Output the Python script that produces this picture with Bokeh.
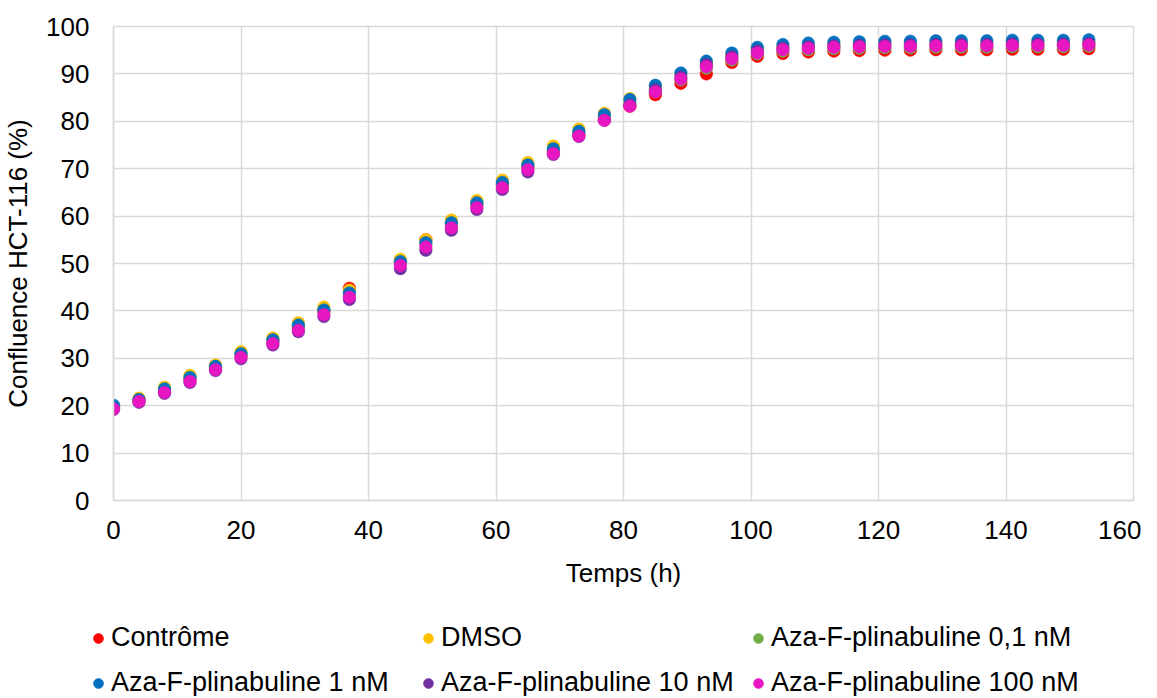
from bokeh.plotting import figure
from bokeh.layouts import column
from bokeh.models import Range1d, FixedTicker, Legend, LegendItem
from bokeh.embed import file_html
from bokeh.resources import INLINE

# ---------------- data ----------------
temps = [0, 4, 8, 12, 16, 20, 25, 29, 33, 37, 45, 49, 53, 57, 61, 65, 69, 73, 77, 81,
         85, 89, 93, 97, 101, 105, 109, 113, 117, 121, 125, 129, 133, 137, 141, 145, 149, 153]

controme = [19.6, 21.0, 23.2, 25.6, 28.0, 30.6, 33.5, 36.6, 39.9, 44.8, 50.3, 55.0, 58.3, 62.4,
            66.6, 70.3, 73.6, 77.2, 80.4, 83.2, 85.6, 88.0, 90.0, 92.4, 93.7, 94.3, 94.6, 94.8,
            94.9, 95.0, 95.0, 95.1, 95.1, 95.1, 95.2, 95.2, 95.2, 95.3]
dmso = [19.8, 21.6, 23.9, 26.4, 28.6, 31.4, 34.3, 37.5, 40.8, 44.4, 50.9, 55.0, 59.2, 63.3,
        67.6, 71.3, 74.8, 78.4, 81.7, 84.8, 87.5, 90.0, 92.4, 94.0, 95.2, 95.7, 96.0, 96.2,
        96.3, 96.4, 96.4, 96.5, 96.5, 96.5, 96.6, 96.6, 96.6, 96.7]
aza_01 = [19.8, 21.2, 23.6, 26.0, 28.2, 31.0, 33.8, 36.9, 40.1, 43.6, 50.2, 54.2, 58.4, 62.6,
          66.8, 70.5, 73.9, 77.5, 80.8, 84.0, 86.2, 88.7, 91.2, 92.9, 94.2, 94.8, 95.1, 95.3,
          95.4, 95.5, 95.5, 95.6, 95.6, 95.6, 95.7, 95.7, 95.7, 95.8]
aza_1 = [20.1, 21.3, 23.5, 25.9, 28.3, 30.9, 33.9, 37.0, 40.2, 43.8, 50.4, 54.4, 58.6, 62.8,
         67.1, 70.8, 74.2, 77.9, 81.4, 84.6, 87.6, 90.2, 92.7, 94.4, 95.6, 96.2, 96.5, 96.7,
         96.8, 96.9, 96.9, 97.0, 97.0, 97.0, 97.1, 97.1, 97.1, 97.2]
aza_10 = [19.2, 20.7, 22.6, 24.9, 27.4, 29.9, 32.8, 35.6, 38.8, 42.4, 48.9, 52.8, 57.0, 61.4,
          65.6, 69.3, 73.0, 76.8, 80.2, 83.4, 86.6, 89.3, 92.0, 93.6, 94.8, 95.4, 95.7, 95.9,
          96.0, 96.1, 96.1, 96.2, 96.2, 96.2, 96.3, 96.3, 96.3, 96.4]
aza_100 = [19.3, 20.9, 22.8, 25.1, 27.6, 30.2, 33.1, 35.9, 39.2, 42.9, 49.6, 53.5, 57.5, 61.8,
           66.0, 69.8, 73.2, 76.9, 80.2, 83.2, 86.2, 88.9, 91.5, 93.2, 94.4, 95.1, 95.4, 95.6,
           95.7, 95.8, 95.8, 95.9, 95.9, 95.9, 96.0, 96.0, 96.0, 96.1]

series_names = ["Contrôme", "DMSO", "Aza-F-plinabuline 0,1 nM",
                "Aza-F-plinabuline 1 nM", "Aza-F-plinabuline 10 nM", "Aza-F-plinabuline 100 nM"]
series_values = [controme, dmso, aza_01, aza_1, aza_10, aza_100]
series_colors = ["#FF0000", "#FFC000", "#70AD47", "#0070C0", "#7030A0", "#E816C0"]

x_ticks = [0, 20, 40, 60, 80, 100, 120, 140, 160]
y_ticks = [0, 10, 20, 30, 40, 50, 60, 70, 80, 90, 100]

FONT = "Liberation Sans"
FS = "26px"
LFS = "27px"
GRID = "#D9D9D9"

# ---------------- main chart ----------------
p = figure(width=1141, height=600, output_backend="svg", toolbar_location=None,
           x_range=Range1d(0, 160), y_range=Range1d(0, 100),
           min_border_left=113, min_border_right=8, min_border_top=26, min_border_bottom=100)
p.frame_align = False

p.outline_line_color = GRID
p.outline_line_width = 1.5
p.background_fill_color = "white"
p.border_fill_color = "white"

for ax in (p.xaxis[0], p.yaxis[0]):
    ax.axis_line_color = GRID
    ax.axis_line_width = 1.5
    ax.major_tick_line_color = None
    ax.minor_tick_line_color = None
    ax.major_label_text_font = FONT
    ax.major_label_text_font_size = FS
    ax.major_label_text_color = "black"
    ax.axis_label_text_font = FONT
    ax.axis_label_text_font_size = FS
    ax.axis_label_text_font_style = "normal"
    ax.axis_label_text_color = "black"

p.xaxis[0].ticker = FixedTicker(ticks=x_ticks)
p.yaxis[0].ticker = FixedTicker(ticks=y_ticks)
p.xaxis[0].axis_label = "Temps (h)"
p.yaxis[0].axis_label = "Confluence HCT-116 (%)"
p.xaxis[0].major_label_standoff = 14
p.xaxis[0].axis_label_standoff = 16
p.yaxis[0].major_label_standoff = 18
p.yaxis[0].axis_label_standoff = 10

p.xgrid[0].ticker = FixedTicker(ticks=x_ticks)
p.ygrid[0].ticker = FixedTicker(ticks=y_ticks)
p.xgrid.grid_line_color = GRID
p.ygrid.grid_line_color = GRID
p.xgrid.grid_line_width = 1.5
p.ygrid.grid_line_width = 1.5

for name, vals, col in zip(series_names, series_values, series_colors):
    p.scatter(temps, vals, size=12.5, marker="circle", fill_color=col, line_color=col, line_width=0.5)

# ---------------- legend strip (series proxies kept out of view) ----------------
lg = figure(width=1141, height=96, output_backend="svg", toolbar_location=None,
            x_range=Range1d(0, 160), y_range=Range1d(1000, 1001),
            x_axis_location=None, y_axis_location=None,
            min_border_left=0, min_border_right=0, min_border_top=0, min_border_bottom=0)
lg.frame_align = False
lg.outline_line_color = None
lg.xgrid.visible = False
lg.ygrid.visible = False

renderers = {}
for name, vals, col in zip(series_names, series_values, series_colors):
    renderers[name] = lg.scatter(temps, vals, size=12.5, marker="circle", fill_color=col, line_color=col)

# column-major fill: col1 = Contrôme / 1 nM, col2 = DMSO / 10 nM, col3 = 0,1 nM / 100 nM
legend_order = [0, 3, 1, 4, 2, 5]
items = [LegendItem(label=series_names[i], renderers=[renderers[series_names[i]]]) for i in legend_order]

legend = Legend(items=items, ncols=3, location=(86, -7),
                glyph_width=24, glyph_height=24, label_standoff=1,
                label_width=301, label_height=41, spacing=4, padding=0, margin=0,
                border_line_color=None, background_fill_alpha=0,
                label_text_font=FONT, label_text_font_size=LFS, label_text_color="black")
lg.add_layout(legend, "center")

layout = column(p, lg, spacing=0)
open("out.html", "w").write(file_html(layout, INLINE))
